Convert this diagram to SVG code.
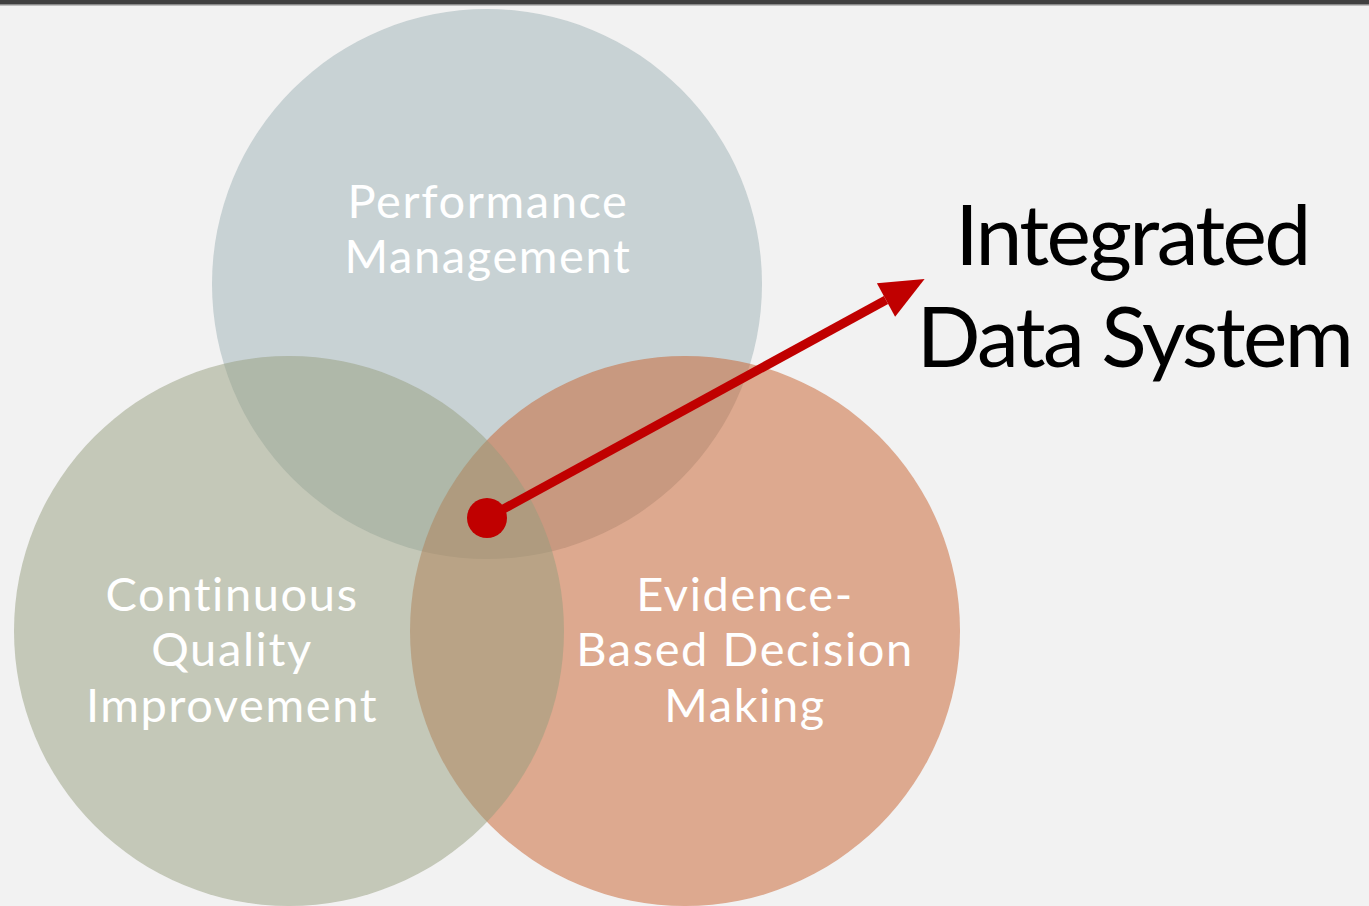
<svg xmlns="http://www.w3.org/2000/svg" width="1369" height="906" viewBox="0 0 1369 906">
<style>
.c{fill-opacity:0.5}
.lbl{font-family:Lato,"Open Sans",sans-serif;font-size:47px;letter-spacing:1.6px;fill:#ffffff;text-anchor:middle}
.big{font-family:Lato,"Open Sans",sans-serif;font-size:84px;letter-spacing:-2.6px;fill:#000000;text-anchor:middle}
</style>
<defs>
<marker id="ah" markerUnits="userSpaceOnUse" markerWidth="50" markerHeight="40" refX="0" refY="0" viewBox="-5 -20 50 40" orient="auto" overflow="visible">
<path d="M0,-19 L44,0 L0,19 Z" fill="#c00000"/>
</marker>
</defs>
<rect x="0" y="0" width="1369" height="906" fill="#f2f2f2"/>
<rect x="0" y="0" width="1369" height="4" fill="#404040"/>
<rect x="0" y="4" width="1369" height="1.5" fill="#8a8a8a"/>
<g id="performance-management">
<circle class="c" cx="487" cy="284" r="275" fill="#9eb2b6"/>
<text class="lbl" x="488" y="218">Performance</text>
<text class="lbl" x="488" y="273">Management</text>
</g>
<g id="evidence-based">
<circle class="c" cx="685" cy="631" r="275" fill="#c8602c"/>
<text class="lbl" x="745" y="611">Evidence-</text>
<text class="lbl" x="745" y="666">Based Decision</text>
<text class="lbl" x="745" y="722">Making</text>
</g>
<g id="continuous-quality">
<circle class="c" cx="289" cy="631" r="275" fill="#969e7e"/>
<text class="lbl" x="232" y="611">Continuous</text>
<text class="lbl" x="232" y="666">Quality</text>
<text class="lbl" x="232" y="722">Improvement</text>
</g>
<g id="connectors">
<circle cx="487" cy="518" r="20" fill="#c00000"/>
<line x1="487" y1="518" x2="886" y2="300" stroke="#c00000" stroke-width="9" marker-end="url(#ah)"/>
</g>
<g id="integrated-data-system">
<text class="big" x="1132" y="265">Integrated</text>
<text class="big" x="1134" y="367">Data System</text>
</g>
</svg>
